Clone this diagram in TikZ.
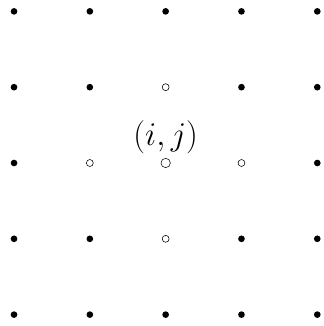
\documentclass[tikz,border=0pt]{standalone}
\usetikzlibrary{positioning}

\begin{document}
\begin{tikzpicture}[x=2cm,y=2cm,
  every node/.style={font=\Huge},
  dot/.style={circle,fill=black,inner sep=0pt,minimum size=5pt},
  nbr/.style={circle,draw,thin,fill=white,inner sep=0pt,minimum size=5.2pt},
  ctr/.style={circle,draw,thin,fill=white,inner sep=0pt,minimum size=7pt}]
  \useasboundingbox (-0.185,-0.15) rectangle (4.08,4.15);
  \foreach \i in {0,...,4}
    \foreach \j in {0,...,4}
      \node[dot] (p-\i-\j) at (\i,\j) {};
  \node[ctr] (c) at (2,2) {};
  \node[nbr] (n) at (2,3) {};
  \node[nbr] (s) at (2,1) {};
  \node[nbr] (w) at (1,2) {};
  \node[nbr] (e) at (3,2) {};
  \node[above=0pt of c] (lbl) {$(i,j)$};
\end{tikzpicture}
\end{document}
